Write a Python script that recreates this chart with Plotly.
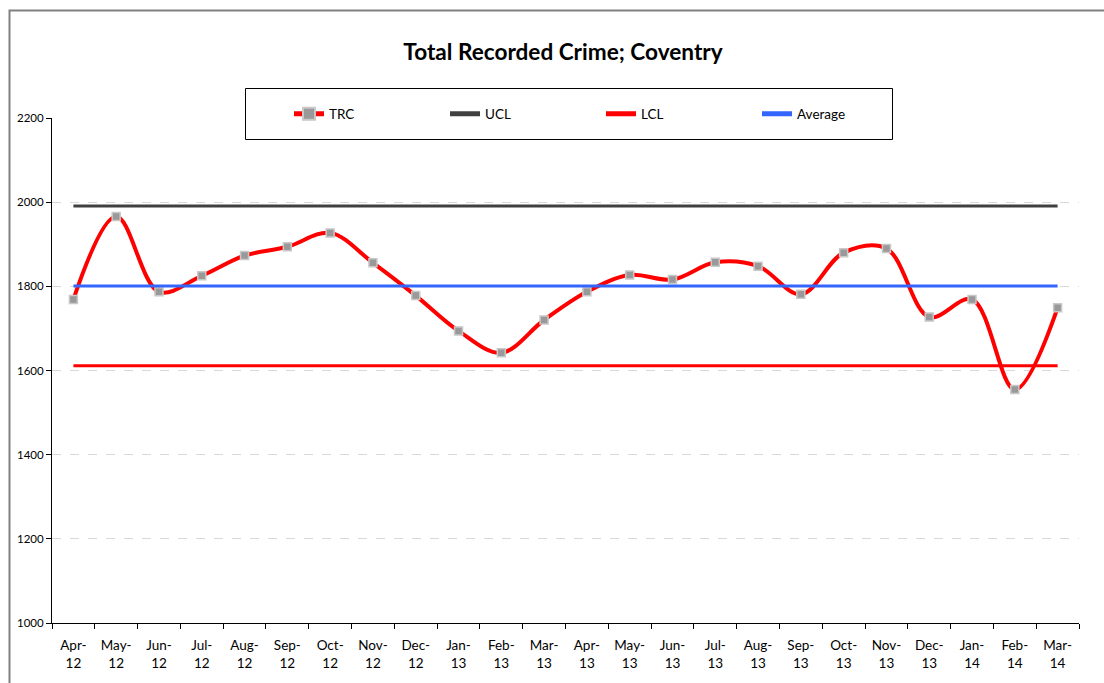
import plotly.graph_objects as go

months = ["Apr-12", "May-12", "Jun-12", "Jul-12", "Aug-12", "Sep-12", "Oct-12", "Nov-12",
          "Dec-12", "Jan-13", "Feb-13", "Mar-13", "Apr-13", "May-13", "Jun-13", "Jul-13",
          "Aug-13", "Sep-13", "Oct-13", "Nov-13", "Dec-13", "Jan-14", "Feb-14", "Mar-14"]
trc = [1769, 1966, 1787, 1825, 1873, 1894, 1927, 1856, 1778, 1694, 1642, 1720,
       1787, 1827, 1816, 1857, 1848, 1781, 1880, 1890, 1727, 1769, 1555, 1749]
ucl_value = 1991
lcl_value = 1611
avg_value = 1801

ucl = [ucl_value] * len(months)
lcl = [lcl_value] * len(months)
avg = [avg_value] * len(months)
tick_text = [m.replace("-", "-<br>") for m in months]

W, H = 1104, 683
L, R, T, B = 52, 1079, 118, 623

def px(x):
    return (x - L) / (R - L)

def py(y):
    return (B - y) / (B - T)

FONT = "Lato, 'Open Sans', sans-serif"

fig = go.Figure()
fig.add_trace(go.Scatter(
    x=months, y=trc, name="TRC", mode="lines+markers",
    line=dict(color="#FF0000", width=4, shape="spline", smoothing=1.0),
    marker=dict(symbol="square", size=8, color="#999999",
                line=dict(color="#C8C8C8", width=1.5)),
))
fig.add_trace(go.Scatter(x=months, y=ucl, name="UCL", mode="lines",
                         line=dict(color="#404040", width=3)))
fig.add_trace(go.Scatter(x=months, y=lcl, name="LCL", mode="lines",
                         line=dict(color="#FF0000", width=3)))
fig.add_trace(go.Scatter(x=months, y=avg, name="Average", mode="lines",
                         line=dict(color="#3366FF", width=3)))

fig.update_layout(
    width=W, height=H,
    margin=dict(l=L, r=W - R, t=T, b=H - B, pad=0),
    paper_bgcolor="white", plot_bgcolor="white",
    font=dict(family=FONT, size=12, color="black"),
    title=dict(text="<b>Total Recorded Crime; Coventry</b>",
               font=dict(family=FONT, size=22.6, color="black"),
               x=px(563), xanchor="center", xref="paper",
               y=1 - 52 / H, yanchor="middle"),
    showlegend=True,
    legend=dict(orientation="h", x=px(289), y=py(114), xanchor="left", yanchor="middle",
                bgcolor="rgba(0,0,0,0)", borderwidth=0,
                entrywidth=111, entrywidthmode="pixels",
                font=dict(family=FONT, size=13.5, color="black"),
                traceorder="normal", itemsizing="constant"),
    xaxis=dict(
        type="category", categoryorder="array", categoryarray=months,
        tickmode="array", tickvals=months, ticktext=tick_text,
        range=[-0.5, len(months) - 0.5],
        showline=True, linecolor="black", linewidth=1,
        ticks="outside", tickson="boundaries", ticklen=5, tickcolor="black",
        showgrid=False, zeroline=False,
        tickfont=dict(family=FONT, size=13.5, color="black"),
        ticklabelstandoff=10,
    ),
    yaxis=dict(
        range=[1000, 2200], dtick=200, tick0=1000,
        showline=True, linecolor="black", linewidth=1,
        ticks="outside", ticklen=5, tickcolor="black",
        showgrid=True, gridcolor="#D9D9D9", griddash="dash", gridwidth=1,
        zeroline=False,
        tickfont=dict(family=FONT, size=11.5, color="black"),
    ),
    shapes=[
        dict(type="rect", xref="paper", yref="paper",
             x0=px(9.5), x1=px(1120), y0=py(700), y1=py(10.5),
             line=dict(color="#808080", width=2), fillcolor="rgba(0,0,0,0)", layer="above"),
        dict(type="rect", xref="paper", yref="paper",
             x0=px(245.5), x1=px(892.5), y0=py(139.5), y1=py(88.5),
             line=dict(color="black", width=1), fillcolor="white", layer="above"),
    ],
)

fig.write_html("out.html", config={"displayModeBar": False},
               post_script="document.body.style.margin='0';document.body.style.padding='0';")
